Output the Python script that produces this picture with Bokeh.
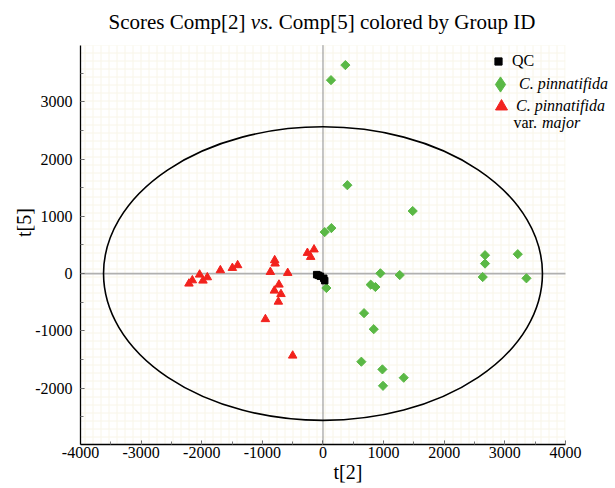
import math
from bokeh.plotting import figure
from bokeh.models import (Range1d, Label, Legend, LegendItem, BoxAnnotation,
                          SingleIntervalTicker, CustomJSTickFormatter)
from bokeh.embed import file_html
from bokeh.resources import INLINE

# ---------------- data ----------------
qc_x = [-104, -75, -43, 12, 28]
qc_y = [-18, -30, -47, -82, -123]

pin_x = [369, 132, 402, 1480, 138, 28, 56, 947, 1266, 787, 864, 677, 837,
         633, 980, 1332, 990, 2673, 2673, 2635, 3213, 3356]
pin_y = [3642, 3379, 1544, 1093, 795, 725, -252, 5, -25, -193, -234, -691,
         -971, -1539, -1673, -1819, -1960, 321, 175, -60, 339, -82]

maj_x = [-257, -148, -203, -797, -790, -868, -582, -726, -802, -693, -736,
         -950, -500, -1693, -1495, -1408, -2035, -1908, -1980, -2155, -2211]
maj_y = [361, 421, 291, 233, 175, 28, 11, -193, -298, -358, -491, -796,
         -1433, 58, 98, 146, -18, -65, -123, -118, -175]

ellipse_a = 3620   # semi-axis along t[2]
ellipse_b = 2565   # semi-axis along t[5]

X_AXIS = (-4000, 4000)     # drawn extent of the t[2] axis
Y_AXIS = (-2985, 3990)     # drawn extent of the t[5] axis
X_VIEW = (-4000, 4825)     # visible range (room for legend at right)
Y_VIEW = (-2985, 4770)     # visible range (room for title on top)

GREEN = "#5ab845"
RED = "#f2221d"
SERIF = "Liberation Serif"

p = figure(width=615, height=488, title=None,
           x_range=Range1d(*X_VIEW), y_range=Range1d(*Y_VIEW),
           output_backend="svg", toolbar_location=None,
           min_border_left=80, min_border_right=0,
           min_border_top=0, min_border_bottom=44)
p.outline_line_color = None
p.background_fill_color = "white"
p.xgrid.visible = False
p.ygrid.visible = False

# faint background grid pattern inside the axes box
p.add_layout(BoxAnnotation(left=X_AXIS[0], right=X_AXIS[1],
                           bottom=Y_AXIS[0], top=Y_AXIS[1],
                           fill_alpha=0, line_alpha=0,
                           hatch_pattern="+", hatch_color="#f8f5e8",
                           hatch_scale=8, hatch_weight=1, level="underlay"))

fmt = CustomJSTickFormatter(code="return tick.toFixed(0);")
for ax, bnd in ((p.xaxis[0], X_AXIS), (p.yaxis[0], Y_AXIS)):
    ax.bounds = bnd
    ax.ticker = SingleIntervalTicker(interval=1000, num_minor_ticks=2)
    ax.formatter = fmt
    ax.axis_line_color = "black"
    ax.axis_line_width = 1.3
    ax.major_tick_in = 4
    ax.major_tick_out = 0
    ax.minor_tick_in = 3
    ax.minor_tick_out = 0
    ax.major_tick_line_color = "#555555"
    ax.minor_tick_line_color = "#777777"
    ax.major_label_text_font = SERIF
    ax.major_label_text_font_size = "16px"
    ax.major_label_text_color = "black"
    ax.axis_label_text_font = SERIF
    ax.axis_label_text_font_size = "20px"
    ax.axis_label_text_font_style = "normal"
    ax.axis_label_text_color = "black"

p.xaxis.axis_label = "t[2]"
p.yaxis.axis_label = "t[5]"
p.xaxis.major_label_standoff = 2
p.xaxis.axis_label_standoff = 0
p.yaxis.major_label_standoff = 8
p.yaxis.axis_label_standoff = -3
p.yaxis.major_label_orientation = "horizontal"

# zero lines (limited to the axes box)
p.segment(x0=[0], y0=[Y_AXIS[0]], x1=[0], y1=[Y_AXIS[1]],
          line_color="#8c8c8c", line_width=1)
p.segment(x0=[X_AXIS[0]], y0=[0], x1=[X_AXIS[1]], y1=[0],
          line_color="#b0b0b0", line_width=1.6)

# Hotelling ellipse
p.ellipse(x=0, y=0, width=2 * ellipse_a, height=2 * ellipse_b,
          fill_color=None, line_color="black", line_width=1.6)

# data
r_maj = p.scatter(maj_x, maj_y, marker="triangle", size=8.5, color=RED)
r_pin = p.scatter(pin_x, pin_y, marker="square", angle=math.pi / 4, size=6.5, color=GREEN)
r_qc = p.scatter(qc_x, qc_y, marker="square", size=6.5, color="black")
# legend-only glyph for the diamond key (not plotted: NaN position)
r_pin_key = p.scatter([float("nan")], [float("nan")], marker="diamond", color=GREEN)

def make_leg(label, r, loc, gsize, style, standoff):
    leg = Legend(items=[LegendItem(label=label, renderers=[r])], location=loc,
                 glyph_width=gsize, glyph_height=gsize, label_standoff=standoff,
                 label_text_font=SERIF, label_text_font_size="16px",
                 label_text_font_style=style, label_text_color="black",
                 padding=0, margin=0, spacing=0,
                 border_line_alpha=0, background_fill_alpha=0)
    p.add_layout(leg)

make_leg("QC", r_qc, (409, 374), 18, "normal", 5)
make_leg("C. pinnatifida", r_pin_key, (401, 341), 38, "italic", -6)
make_leg("C. pinnatifida", r_maj, (406, 323), 30, "italic", -3)
p.add_layout(Label(x=433, y=314, x_units="screen", y_units="screen", text="var.",
                   text_font=SERIF, text_font_size="16px", text_color="black"))
p.add_layout(Label(x=461.5, y=314, x_units="screen", y_units="screen", text="major",
                   text_font=SERIF, text_font_size="16px", text_font_style="italic",
                   text_color="black"))

# title pieces (mixed italic)
ty = 411
p.add_layout(Label(x=28, y=ty, x_units="screen", y_units="screen",
                   text="Scores Comp[2]", text_font=SERIF, text_font_size="21px",
                   text_color="black"))
p.add_layout(Label(x=170.3, y=ty, x_units="screen", y_units="screen",
                   text="vs.", text_font=SERIF, text_font_size="21px",
                   text_font_style="italic", text_color="black"))
p.add_layout(Label(x=198.3, y=ty, x_units="screen", y_units="screen",
                   text="Comp[5] colored by Group ID", text_font=SERIF,
                   text_font_size="21px", text_color="black"))

open("out.html", "w").write(file_html(p, INLINE))
